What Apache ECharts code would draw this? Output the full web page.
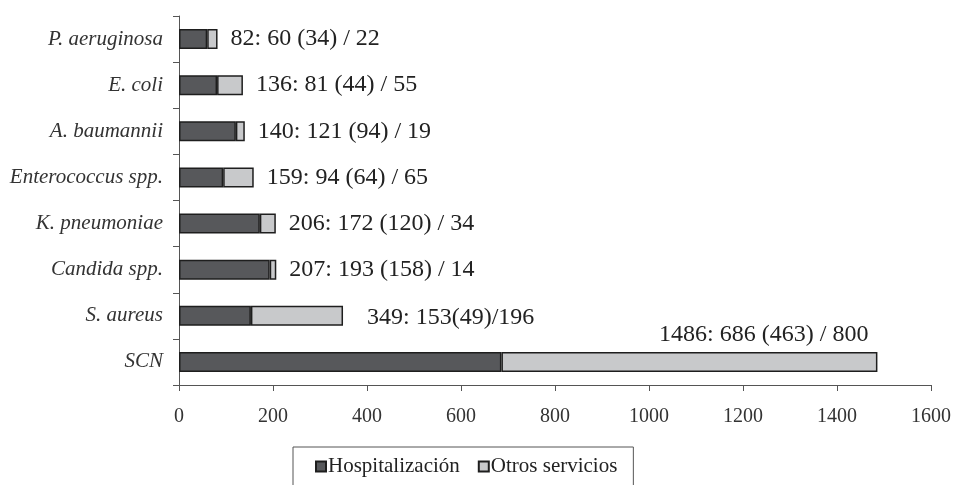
<!DOCTYPE html>
<html>
<head>
<meta charset="utf-8">
<script src="https://cdn.jsdelivr.net/npm/echarts@6/dist/echarts.min.js"></script>
<style>
  html, body { margin: 0; padding: 0; background: #fff; }
  #chart { width: 954px; height: 485px; }
</style>
</head>
<body>
<div id="chart"></div>
<script>
// Organisms, listed bottom to top
const organisms = ['SCN', 'S. aureus', 'Candida spp.', 'K. pneumoniae', 'Enterococcus spp.', 'A. baumannii', 'E. coli', 'P. aeruginosa'];
// Isolates from hospital wards
const hospitalizacion = [686, 153, 193, 172, 94, 121, 81, 60];
// Isolates from other services
const otrosServicios = [800, 196, 14, 34, 65, 19, 55, 22];
// Bracketed sub-count shown in each label
const subcount = [463, 49, 158, 120, 64, 94, 44, 34];
const xTicks = { min: 0, max: 1600, interval: 200 };

const serif = 'Liberation Serif, Times New Roman, serif';

function barLabel(i) {
  const total = hospitalizacion[i] + otrosServicios[i];
  if (organisms[i] === 'S. aureus') {
    return total + ': ' + hospitalizacion[i] + '(' + subcount[i] + ')/' + otrosServicios[i];
  }
  return total + ': ' + hospitalizacion[i] + ' (' + subcount[i] + ') / ' + otrosServicios[i];
}

const otrosData = otrosServicios.map((v, i) => {
  const item = { value: v };
  if (organisms[i] === 'SCN') {
    // the longest bar carries its label above, right-aligned to the bar end
    item.label = {
      position: ['100%', 0],
      align: 'right',
      verticalAlign: 'bottom',
      offset: [-9, -5]
    };
  } else if (organisms[i] === 'S. aureus') {
    item.label = { distance: 24, offset: [0, 2] };
  }
  return item;
});

const chart = echarts.init(document.getElementById('chart'), null, { renderer: 'canvas' });
chart.setOption({
  animation: false,
  backgroundColor: '#ffffff',
  grid: { left: 179, right: 21, top: 16, bottom: 100, containLabel: false },
  legend: {
    left: 293,
    top: 447,
    padding: [9, 16, 20, 22],
    borderColor: '#555',
    borderWidth: 1,
    icon: 'rect',
    itemWidth: 10,
    itemHeight: 10,
    itemGap: 18,
    textStyle: { fontFamily: serif, fontSize: 21, color: '#222', padding: [0, 0, 0, -3] },
    data: ['Hospitalización', 'Otros servicios']
  },
  xAxis: {
    type: 'value',
    min: xTicks.min,
    max: xTicks.max,
    interval: xTicks.interval,
    splitLine: { show: false },
    axisLine: { show: true, lineStyle: { color: '#555', width: 1 } },
    axisTick: { show: true, length: 6, lineStyle: { color: '#555' } },
    axisLabel: {
      fontFamily: serif, fontSize: 20, color: '#333', margin: 22,
      formatter: v => String(v)
    }
  },
  yAxis: {
    type: 'category',
    data: organisms,
    axisLine: { show: true, lineStyle: { color: '#555', width: 1 } },
    axisTick: { show: true, length: 6, lineStyle: { color: '#555' } },
    axisLabel: { fontFamily: serif, fontSize: 21, fontStyle: 'italic', color: '#333', margin: 16 }
  },
  series: [
    {
      name: 'Hospitalización',
      type: 'bar',
      stack: 'total',
      barWidth: 20,
      data: hospitalizacion,
      itemStyle: { color: '#57585b', borderColor: '#1e1e1e', borderWidth: 1.5 }
    },
    {
      name: 'Otros servicios',
      type: 'bar',
      stack: 'total',
      barWidth: 20,
      data: otrosData,
      itemStyle: { color: '#c8c9cb', borderColor: '#1e1e1e', borderWidth: 1.5 },
      label: {
        show: true,
        position: 'right',
        distance: 13,
        fontFamily: serif,
        fontSize: 24,
        color: '#222',
        formatter: p => barLabel(p.dataIndex)
      }
    }
  ]
});
</script>
</body>
</html>
